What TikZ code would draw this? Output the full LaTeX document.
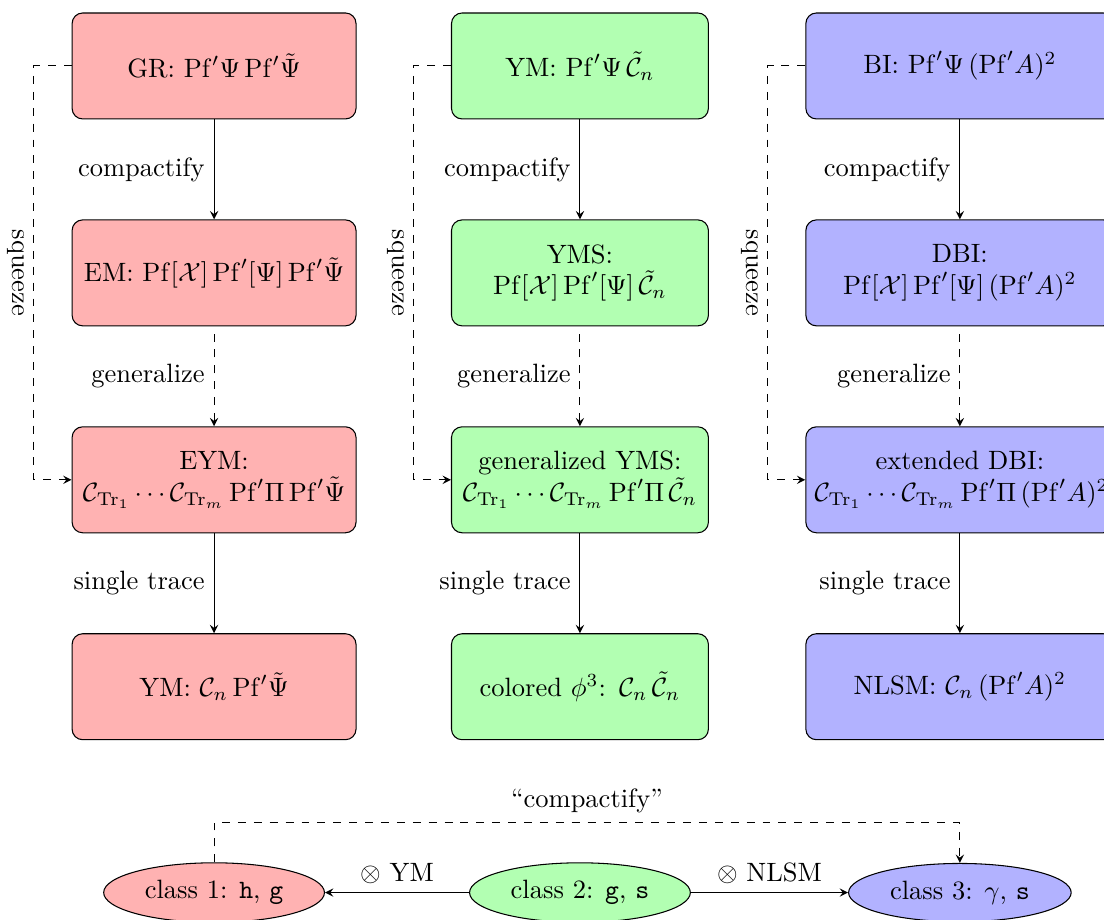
\documentclass[tikz,border=0pt]{standalone}
\usetikzlibrary{shapes.geometric}

\tikzstyle{redbox}=[rectangle,rounded corners,draw=black,fill=red!30,text width=100.5pt,text centered,minimum height=40pt]
\tikzstyle{greenbox}=[rectangle,rounded corners,draw=black,fill=green!30,text width=90.3pt,text centered,minimum height=40pt]
\tikzstyle{bluebox}=[rectangle,rounded corners,draw=black,fill=blue!30,text width=109.6pt,text centered,minimum height=40pt]
\tikzstyle{classnode}=[ellipse,draw=black]
\tikzstyle{pre}=[<-,>=stealth]
\tikzstyle{post}=[->,>=stealth]
\tikzstyle{squeezelabel}=[rotate=-90,anchor=north]

\begin{document}
\begin{tikzpicture}
        \useasboundingbox (-80.8pt,24.9pt) rectangle (335.9pt,-322.3pt);

        % gravity column
        \node[redbox] (gr) at (0,0) {GR: $\mathrm{Pf}'\Psi\,\mathrm{Pf}'\tilde{\Psi}$};
        \node[redbox] (em)  [below of=gr, node distance=78.1pt] {EM: $\mathrm{Pf}[\mathcal{X}]\,\mathrm{Pf}'[\Psi]\,\mathrm{Pf}'\tilde{\Psi}$}
         edge[pre] node[auto] {compactify} (gr);
        \node[redbox] (eym) [below of=em, node distance=78.1pt] {EYM:\\ $\mathcal{C}_{\mathrm{Tr}_1}\cdots\mathcal{C}_{\mathrm{Tr}_m}\,\mathrm{Pf}'\Pi\,\mathrm{Pf}'\tilde{\Psi}$}
         edge[pre,dashed] node[auto] {generalize} (em);
        \node[redbox] (ymred) [below of=eym, node distance=78.1pt] {YM: $\mathcal{C}_n\,\mathrm{Pf}'\tilde{\Psi}$}
         edge[pre] node[auto] {single trace} (eym);
        \draw[post,dashed] (gr.west) -- ++(-0.5cm,0) |- node[pos=0.25,squeezelabel] {squeeze} (eym.west);

        % gauge column
        \node[greenbox] (ym) [right of=gr, node distance=138.1pt] {YM: $\mathrm{Pf}'\Psi\,\tilde{\mathcal{C}}_n$};
        \node[greenbox] (yms) [below of=ym, node distance=78.1pt] {YMS:\\ $\mathrm{Pf}[\mathcal{X}]\,\mathrm{Pf}'[\Psi]\,\tilde{\mathcal{C}}_n$}
         edge[pre] node[auto] {compactify} (ym);
        \node[greenbox] (gyms) [below of=yms, node distance=78.1pt] {generalized YMS:\\ $\mathcal{C}_{\mathrm{Tr}_1}\cdots\mathcal{C}_{\mathrm{Tr}_m}\,\mathrm{Pf}'\Pi\,\tilde{\mathcal{C}}_n$}
         edge[pre,dashed] node[auto] {generalize} (yms);
        \node[greenbox] (phi) [below of=gyms, node distance=78.1pt] {colored $\phi^3$: $\mathcal{C}_n\,\tilde{\mathcal{C}}_n$}
         edge[pre] node[auto] {single trace} (gyms);
        \draw[post,dashed] (ym.west) -- ++(-0.5cm,0) |- node[pos=0.25,squeezelabel] {squeeze} (gyms.west);

        % scalar column
        \node[bluebox] (bi) [right of=ym, node distance=143.4pt] {BI: $\mathrm{Pf}'\Psi\,(\mathrm{Pf}'A)^2$};
        \node[bluebox] (dbi) [below of=bi, node distance=78.1pt] {DBI:\\ $\mathrm{Pf}[\mathcal{X}]\,\mathrm{Pf}'[\Psi]\,(\mathrm{Pf}'A)^2$}
         edge[pre] node[auto] {compactify} (bi);
        \node[bluebox] (edbi) [below of=dbi, node distance=78.1pt] {extended DBI:\\ $\mathcal{C}_{\mathrm{Tr}_1}\cdots\mathcal{C}_{\mathrm{Tr}_m}\,\mathrm{Pf}'\Pi\,(\mathrm{Pf}'A)^2$}
         edge[pre,dashed] node[auto] {generalize} (dbi);
        \node[bluebox] (nlsm) [below of=edbi, node distance=78.1pt] {NLSM: $\mathcal{C}_n\,(\mathrm{Pf}'A)^2$}
         edge[pre] node[auto] {single trace} (edbi);
        \draw[post,dashed] (bi.west) -- ++(-0.5cm,0) |- node[pos=0.25,squeezelabel] {squeeze} (edbi.west);

        % classes
        \node[classnode,fill=red!30] (cls1) [below of=ymred, node distance=77.7pt] {class 1: \texttt{h}, \texttt{g}};
        \node[classnode,fill=green!30] (cls2) [below of=phi, node distance=77.7pt] {class 2: \texttt{g}, \texttt{s}}
         edge[post] node[auto,swap] {$\otimes$ YM} (cls1);
        \node[classnode,fill=blue!30] (cls3) [below of=nlsm, node distance=77.7pt] {class 3: $\gamma$, \texttt{s}}
         edge[pre] node[auto,swap] {$\otimes$ NLSM} (cls2);
        \draw[post,dashed] (cls1.north) -- ++(0,15pt) -| node[pos=0.25,above] {``compactify''} (cls3.north);
\end{tikzpicture}
\end{document}
